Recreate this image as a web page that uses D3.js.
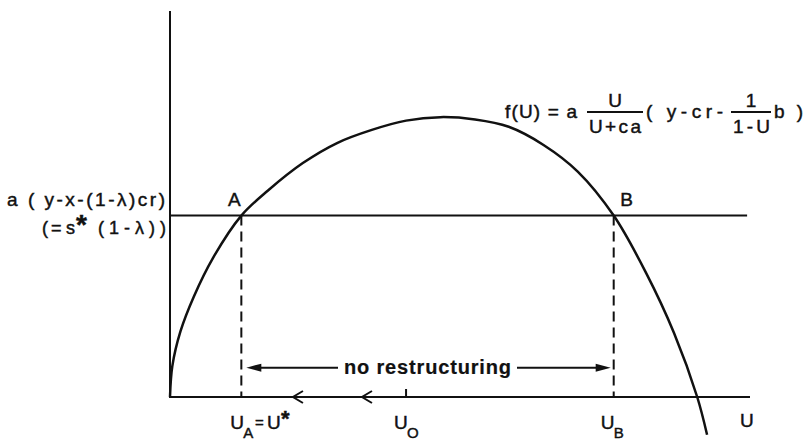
<!DOCTYPE html>
<html>
<head>
<meta charset="utf-8">
<script src="https://cdn.jsdelivr.net/npm/d3@7"></script>
<style>
body{margin:0;background:#fff;}
text{font-family:"Liberation Sans",Arial,sans-serif;fill:#111;stroke:#111;stroke-width:0.45px;}
</style>
</head>
<body>
<script>
// curve f(U) (U and f in 0..100 units)
const curveU=[0,0.4,1.8,4.1,7.4,12.3,16.9,22.9,28.8,34.8,40.7,46.6,52.6,58.4,64.4,70.3,76.5,82.1,86.9,90.9,92.6];
const curveF=[0,8,17,26,36,47.0,53.5,60.6,65.8,69.2,71.6,72.5,71.9,70.0,65.3,58.4,47.0,32.1,16.6,0,-9.8];
const levelF=47.0;        // a(y-x-(1-λ)cr)
const pointU=[12.3,76.5]; // U_A, U_B
const pointName=['A','B'];
const uZero=40.7;         // U_0
const chevronU=[21.2,33.1];
const axisMax=[100,100];

const width=806,height=441;
const svg=d3.select('body').append('svg').attr('width',width).attr('height',height);

const x=d3.scaleLinear().domain([0,100]).range([170,750]);
const y=d3.scaleLinear().domain([0,100]).range([397,11]);

// axes
svg.append('line').attr('x1',x(0)).attr('x2',x(0)).attr('y1',y(0)+1).attr('y2',y(axisMax[1]))
.attr('stroke','#111').attr('stroke-width',2);
svg.append('line').attr('x1',x(0)).attr('x2',x(axisMax[0])).attr('y1',y(0)).attr('y2',y(0))
.attr('stroke','#111').attr('stroke-width',2);

// level line
svg.append('line').attr('x1',x(0)).attr('x2',x(99.5)).attr('y1',y(levelF)).attr('y2',y(levelF))
.attr('stroke','#111').attr('stroke-width',2);

// curve
const pts=curveU.map((u,i)=>[u,curveF[i]]);
const line=d3.line().x(d=>x(d[0])).y(d=>y(d[1])).curve(d3.curveCatmullRom);
svg.append('path').attr('d',line(pts)).attr('fill','none').attr('stroke','#111').attr('stroke-width',2.5);

// dashed drops
svg.selectAll('.drop').data(pointU).enter().append('line').attr('class','drop')
.attr('x1',d=>x(d)).attr('x2',d=>x(d)).attr('y1',y(levelF)).attr('y2',y(0))
.attr('stroke','#111').attr('stroke-width',2).attr('stroke-dasharray','10,6');

// A, B labels
svg.selectAll('.pl').data(pointU).enter().append('text').attr('class','pl')
.attr('x',(d,i)=>i==0?x(d)-7:x(d)+13).attr('y',y(levelF)-10)
.attr('text-anchor','middle').style('font-size','19px')
.text((d,i)=>pointName[i]);

// U_0 tick
svg.append('line').attr('x1',x(uZero)).attr('x2',x(uZero)).attr('y1',y(0)).attr('y2',y(0)-8)
.attr('stroke','#111').attr('stroke-width',2);

// chevrons on axis
svg.selectAll('.chev').data(chevronU).enter().append('path').attr('class','chev')
.attr('d',d=>`M${x(d)+10},${y(0)-6} L${x(d)},${y(0)} L${x(d)+10},${y(0)+6}`)
.attr('fill','none').attr('stroke','#111').attr('stroke-width',2);

// text helper: fixed width via textLength
function txt(x0,y0,s,len,size,anchor){
  const t=svg.append('text').attr('x',x0).attr('y',y0).style('font-size',size||'19px').text(s);
  if(anchor) t.attr('text-anchor',anchor);
  if(len) t.attr('textLength',len).attr('lengthAdjust','spacing');
  return t;
}

// "no restructuring" arrow
const ay=y(7.6);
const left=x(pointU[0])+5, right=x(pointU[1])-3;
svg.append('line').attr('x1',left+12).attr('x2',338).attr('y1',ay).attr('y2',ay).attr('stroke','#111').attr('stroke-width',2);
svg.append('line').attr('x1',517).attr('x2',right-12).attr('y1',ay).attr('y2',ay).attr('stroke','#111').attr('stroke-width',2);
svg.append('path').attr('d',`M${left},${ay} L${left+15},${ay-4} L${left+15},${ay+4} Z`).attr('fill','#111');
svg.append('path').attr('d',`M${right},${ay} L${right-15},${ay-4} L${right-15},${ay+4} Z`).attr('fill','#111');
txt(344,ay+6,'no restructuring',167,'20px').style('font-weight','bold').style('stroke-width','0.2px');

// left labels
txt(7,206,'a ( y-x-(1-λ)cr)',158,'19px');
txt(42,234,'(',null,'18px');
txt(51,234,'=',null,'18px');
txt(66,234,'s',null,'18px');
txt(76,234,'*',null,'28px').style('font-weight','bold');
txt(98,234,'(1-λ))',68,'18px');

// formula
txt(505,118,'f(U) = a',72);
txt(615,107,'U',null,'19px','middle');
svg.append('line').attr('x1',587).attr('x2',643).attr('y1',112).attr('y2',112).attr('stroke','#111').attr('stroke-width',1.8);
txt(589,133,'U+ca',52);
txt(646,118,'( y-cr-',77);
txt(751,107,'1',null,'19px','middle');
svg.append('line').attr('x1',731).attr('x2',771).attr('y1',112).attr('y2',112).attr('stroke','#111').attr('stroke-width',1.8);
txt(733,133,'1-U',37);
txt(774,118,'b )',29);

// bottom labels
function sub(xp,main,s){
  txt(xp,429,main);
  txt(xp+13,438,s,null,'15px');
}
sub(x(pointU[0])-11,'U','A');
txt(255,428,'=',null,'15px');
txt(267,429,'U');
txt(281,426,'*',null,'22px').style('font-weight','bold');
sub(x(uZero)-12,'U','O');
sub(x(pointU[1])-13,'U','B');
txt(740,427,'U');
</script>
</body>
</html>
